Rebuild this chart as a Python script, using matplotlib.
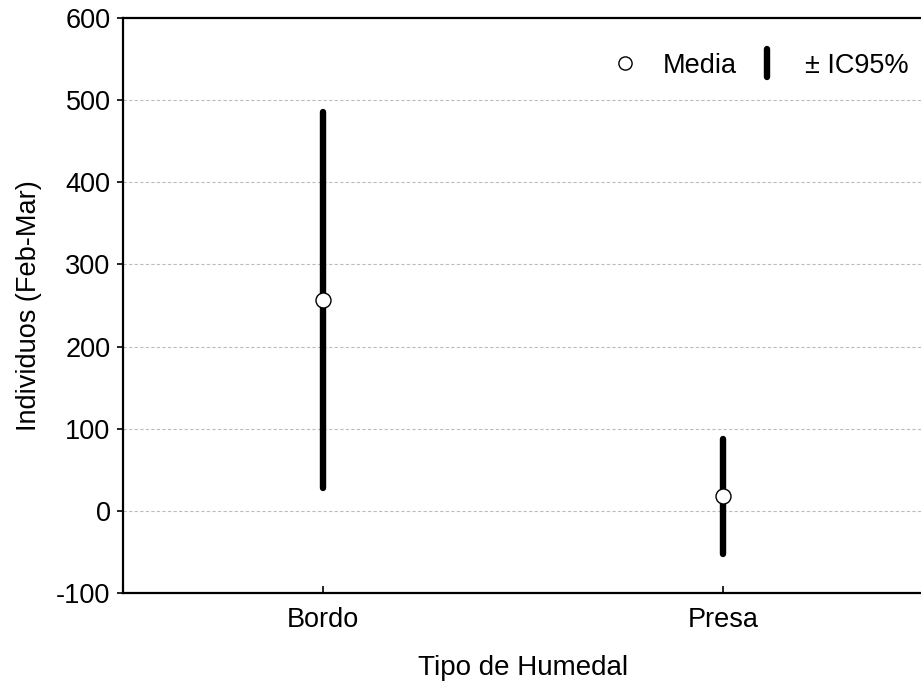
import matplotlib
matplotlib.use("Agg")
import matplotlib.pyplot as plt
from matplotlib.lines import Line2D
from matplotlib.markers import MarkerStyle

plt.rcParams['font.family'] = ['Liberation Sans', 'DejaVu Sans']

categories = ["Bordo", "Presa"]
means = [256.5, 17.5]
ci_lower = [28.0, -52.0]
ci_upper = [485.0, 87.0]
yticks = [-100, 0, 100, 200, 300, 400, 500, 600]

FS = 19.5

fig = plt.figure(figsize=(9.21, 6.87), dpi=100)
ax = fig.add_axes([123/921, (687-593)/687, 800/921, 575/687])

x = list(range(1, len(categories) + 1))
ax.vlines(x, ci_lower, ci_upper, colors='black', linewidth=4.6, capstyle='round', zorder=3)
ax.plot(x, means, linestyle='none', marker='o', markersize=10.8,
        markerfacecolor='white', markeredgecolor='black', markeredgewidth=1.0, zorder=4)

ax.set_xlim(0.5, 2.5)
ax.set_ylim(-100, 600)
ax.set_xticks(x)
ax.set_xticklabels(categories)
ax.set_yticks(yticks)
ax.set_yticklabels([str(v) for v in yticks])

for v in yticks[1:-1]:
    ax.axhline(v, color='#bdbdbd', linewidth=0.8, linestyle=(0, (3, 2)), zorder=1)

for s in ax.spines.values():
    s.set_linewidth(1.6)
ax.tick_params(axis='y', direction='out', length=4, width=1.2, labelsize=FS, right=True, pad=5)
ax.tick_params(axis='x', direction='in', length=5, width=1.2, labelsize=FS, pad=10)

ax.set_xlabel("Tipo de Humedal", fontsize=20, labelpad=16)
ax.set_ylabel("Individuos (Feb-Mar)", fontsize=FS, labelpad=10)

h1 = Line2D([], [], linestyle='none', marker='o', markersize=9.5,
            markerfacecolor='white', markeredgecolor='black', markeredgewidth=1.0)
h2 = Line2D([], [], linestyle='none', marker=MarkerStyle('|', capstyle='round'),
            markersize=20, markeredgewidth=4.6, color='black')
leg = ax.legend([h1, h2], ["Media", "± IC95%"], ncol=2, frameon=False, fontsize=FS,
                loc='upper right', bbox_to_anchor=(1.0125, 0.982),
                handlelength=1.2, handletextpad=0.8, columnspacing=0.5)

fig.savefig("out.png", dpi=100)
